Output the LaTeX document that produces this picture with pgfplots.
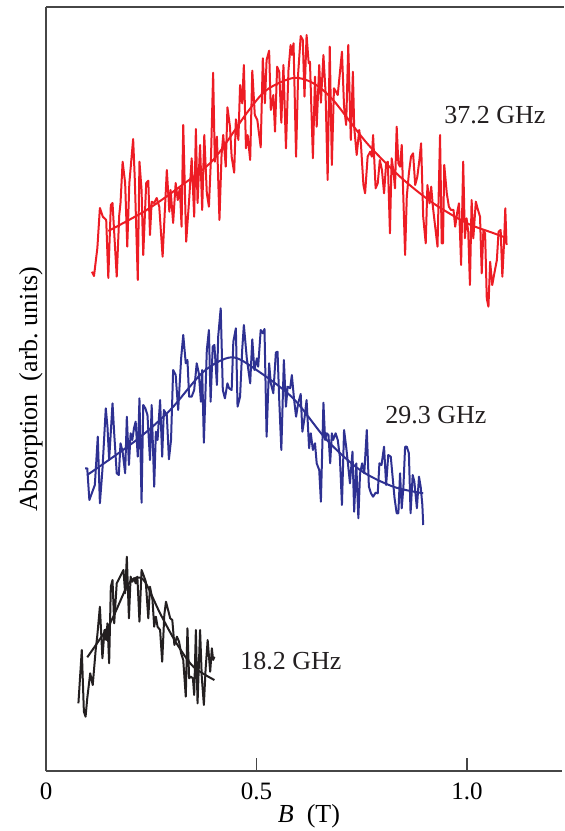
\documentclass[border=0pt]{standalone}
\usepackage{fontspec}
\setmainfont{Liberation Serif}
\usepackage{pgfplots}
\pgfplotsset{compat=1.18}

\definecolor{specred}{RGB}{237,28,36}
\definecolor{specblue}{RGB}{46,49,146}
\definecolor{specblack}{RGB}{35,31,32}
\definecolor{axgray}{RGB}{70,70,70}

\begin{document}
\begin{tikzpicture}
\begin{axis}[
    scale only axis,
    width=258pt, height=382pt,
    xmin=0, xmax=1.2257, ymin=0, ymax=7.64,
    axis x line*=bottom, axis y line*=left,
    axis line style={axgray, line width=0.75pt},
    xtick={0,0.5,1.0}, xticklabels={0,0.5,1.0},
    ytick=\empty,
    tick align=inside, major tick length=6.3pt,
    tick style={axgray, line width=0.75pt},
    /pgf/number format/assume math mode=true,
    tick label style={font=\fontsize{12.5}{15}\selectfont},
    xticklabel style={yshift=-2.4pt},
    xlabel={\textit{B}\ \ (T)},
    ylabel={Absorption\ \ (arb.\ units)},
    every axis x label/.style={at={(axis description cs:0.5,0)}, anchor=base, inner sep=0pt, xshift=2.5pt, yshift=-25.5pt, font=\fontsize{13}{16}\selectfont},
    every axis y label/.style={at={(axis description cs:-0.0174,0.5)}, rotate=90, anchor=base, inner sep=0pt, font=\fontsize{13}{16}\selectfont},
    clip=false,
    every axis plot/.append style={line width=1pt, line join=round},
]
\draw[axgray, line width=0.75pt] (rel axis cs:0,1) -- ([xshift=1pt]rel axis cs:1,1);

% 37.2 GHz
\addplot[specred] coordinates {
(0.109,4.993) (0.114,4.950) (0.122,5.230) (0.128,5.630) (0.135,5.543) (0.143,5.510)
(0.148,4.930) (0.154,5.660) (0.158,5.680) (0.168,4.943) (0.174,5.560) (0.177,5.680)
(0.182,6.093) (0.188,5.880) (0.193,5.243) (0.198,5.880) (0.207,6.320) (0.211,5.910)
(0.218,4.910) (0.222,6.093) (0.227,5.810) (0.231,5.160) (0.238,5.880) (0.243,5.903)
(0.247,5.360) (0.251,5.693) (0.257,5.680) (0.263,5.730) (0.269,5.643) (0.277,5.143)
(0.287,6.010) (0.293,5.593) (0.296,5.810) (0.302,5.480) (0.308,5.880) (0.313,5.710)
(0.318,5.830) (0.322,5.443) (0.326,6.460) (0.333,5.293) (0.340,5.710) (0.346,6.127)
(0.352,5.543) (0.356,6.420) (0.360,5.680) (0.366,6.260) (0.371,5.610) (0.376,6.360)
(0.382,5.777) (0.387,5.643) (0.392,6.143) (0.397,6.983) (0.401,6.093) (0.406,6.343)
(0.412,5.510) (0.417,6.160) (0.421,6.360) (0.427,6.043) (0.431,6.637) (0.437,6.443)
(0.441,6.143) (0.447,5.983) (0.451,6.517) (0.457,6.310) (0.461,6.860) (0.466,6.677)
(0.470,7.060) (0.475,6.227) (0.479,6.360) (0.485,6.110) (0.490,7.003) (0.496,6.560)
(0.502,6.510) (0.510,6.237) (0.515,7.127) (0.520,6.677) (0.524,7.110) (0.530,7.203)
(0.534,6.610) (0.540,6.760) (0.544,6.393) (0.549,7.043) (0.554,6.993) (0.559,6.483)
(0.564,7.060) (0.570,6.227) (0.576,7.010) (0.581,7.260) (0.584,7.160) (0.588,7.277)
(0.594,6.143) (0.599,6.977) (0.605,7.350) (0.610,7.310) (0.614,6.743) (0.619,7.360)
(0.624,7.077) (0.627,7.093) (0.634,6.127) (0.639,6.943) (0.643,6.443) (0.649,7.060)
(0.653,6.683) (0.659,7.160) (0.664,6.793) (0.669,5.910) (0.674,7.243) (0.679,6.060)
(0.684,6.827) (0.689,6.793) (0.693,6.760) (0.698,6.977) (0.703,7.193) (0.708,6.643)
(0.713,6.460) (0.718,7.260) (0.724,6.310) (0.729,6.993) (0.732,6.443) (0.738,6.160)
(0.744,6.410) (0.748,6.277) (0.754,5.860) (0.758,5.777) (0.764,6.143) (0.770,6.193)
(0.774,6.143) (0.777,6.360) (0.783,5.827) (0.788,5.877) (0.793,6.110) (0.798,6.010)
(0.803,5.777) (0.808,6.077) (0.812,6.093) (0.817,5.377) (0.821,6.127) (0.825,6.010)
(0.829,5.827) (0.833,6.443) (0.837,6.077) (0.841,6.043) (0.845,6.260) (0.849,5.710)
(0.853,5.160) (0.857,5.743) (0.862,5.977) (0.867,6.143) (0.872,6.177) (0.877,5.860)
(0.882,5.943) (0.887,6.110) (0.891,6.277) (0.896,5.543) (0.902,5.277) (0.906,5.860)
(0.911,5.677) (0.915,5.843) (0.919,5.643) (0.924,5.460) (0.930,5.243) (0.936,6.360)
(0.940,5.277) (0.943,5.277) (0.946,6.060) (0.952,5.777) (0.957,5.643) (0.962,5.610)
(0.968,5.610) (0.972,5.443) (0.977,5.593) (0.981,5.677) (0.986,5.060) (0.991,6.093)
(0.995,5.327) (0.999,5.527) (1.003,5.393) (1.007,4.860) (1.011,5.710) (1.015,5.327)
(1.021,5.693) (1.025,5.627) (1.031,5.543) (1.035,4.977) (1.039,5.410) (1.043,5.377)
(1.047,4.727) (1.051,4.643) (1.055,5.093) (1.060,4.860) (1.065,4.977) (1.071,5.110)
(1.075,5.393) (1.080,5.410) (1.084,4.943) (1.088,5.277) (1.091,5.627) (1.094,5.260)
};
\addplot[specred, smooth] coordinates {
(0.148,5.40) (0.239,5.61) (0.318,5.843) (0.397,6.11) (0.477,6.58) (0.524,6.81)
(0.587,6.93) (0.634,6.88) (0.682,6.71) (0.762,6.28) (0.841,5.943) (0.919,5.68)
(0.999,5.48) (1.062,5.38) (1.094,5.33)
};

% 29.3 GHz
\addplot[specblue] coordinates {
(0.093,3.027) (0.098,3.027) (0.103,2.710) (0.116,2.860) (0.123,3.343) (0.128,2.677)
(0.134,3.010) (0.142,3.627) (0.146,3.443) (0.150,3.110) (0.158,3.677) (0.162,3.377)
(0.168,2.977) (0.173,2.960) (0.177,3.277) (0.182,3.193) (0.188,2.977) (0.192,3.543)
(0.197,3.060) (0.201,3.377) (0.205,3.310) (0.209,3.427) (0.213,3.493) (0.218,3.143)
(0.222,3.727) (0.227,2.683) (0.231,3.660) (0.236,3.627) (0.241,3.560) (0.247,3.110)
(0.251,3.660) (0.257,2.843) (0.261,3.393) (0.265,3.310) (0.271,3.710) (0.276,3.143)
(0.280,3.610) (0.287,3.560) (0.292,3.117) (0.297,3.310) (0.302,4.010) (0.308,3.960)
(0.314,3.610) (0.321,4.127) (0.326,4.360) (0.332,4.077) (0.336,4.110) (0.340,3.743)
(0.346,3.743) (0.352,3.810) (0.358,4.077) (0.363,3.977) (0.368,3.693) (0.371,4.010)
(0.375,3.283) (0.382,4.210) (0.387,4.410) (0.391,3.693) (0.396,4.243) (0.400,4.260)
(0.406,3.860) (0.409,4.343) (0.415,4.627) (0.420,3.810) (0.425,3.727) (0.431,3.877)
(0.435,3.827) (0.441,3.810) (0.445,4.293) (0.451,4.427) (0.455,3.643) (0.461,3.743)
(0.466,4.210) (0.470,4.460) (0.477,4.127) (0.485,3.877) (0.490,4.317) (0.495,4.010)
(0.501,4.127) (0.504,4.043) (0.510,4.410) (0.515,4.377) (0.519,4.420) (0.524,3.343)
(0.530,4.077) (0.534,3.877) (0.540,3.777) (0.546,4.185) (0.550,4.193) (0.554,3.710)
(0.559,3.210) (0.565,4.110) (0.570,3.643) (0.574,3.843) (0.580,3.827) (0.584,3.960)
(0.589,3.727) (0.594,3.543) (0.599,3.677) (0.605,3.770) (0.609,3.393) (0.614,3.527)
(0.619,3.710) (0.625,3.227) (0.629,3.377) (0.634,3.210) (0.639,3.277) (0.643,3.077)
(0.649,3.010) (0.653,2.693) (0.659,3.683) (0.663,3.310) (0.667,3.377) (0.671,3.360)
(0.675,3.077) (0.679,3.377) (0.682,3.310) (0.688,3.377) (0.693,3.310) (0.698,3.143)
(0.703,2.660) (0.708,3.410) (0.713,3.243) (0.718,3.043) (0.722,2.877) (0.728,3.193)
(0.732,2.593) (0.737,3.077) (0.742,2.527) (0.746,2.977) (0.751,3.077) (0.756,2.977)
(0.762,3.410) (0.767,2.843) (0.772,2.777) (0.777,2.743) (0.783,2.783) (0.788,2.777)
(0.792,3.077) (0.797,3.060) (0.803,3.243) (0.808,2.860) (0.813,3.160) (0.819,3.143)
(0.824,2.910) (0.828,2.727) (0.833,2.577) (0.837,2.577) (0.841,2.977) (0.845,2.627)
(0.849,2.843) (0.853,3.243) (0.857,3.243) (0.862,3.177) (0.866,2.577) (0.871,2.960)
(0.875,2.893) (0.881,2.627) (0.886,2.943) (0.890,2.843) (0.894,2.660) (0.896,2.460)
};
\addplot[specblue, smooth] coordinates {
(0.098,2.96) (0.215,3.31) (0.295,3.61) (0.374,3.993) (0.441,4.137) (0.500,4.01)
(0.587,3.727) (0.667,3.31) (0.746,3.01) (0.825,2.843) (0.896,2.777)
};

% 18.2 GHz
\addplot[specblack] coordinates {
(0.077,0.677) (0.085,1.210) (0.090,0.593) (0.094,0.543) (0.098,0.727) (0.105,0.977)
(0.111,0.860) (0.118,1.210) (0.122,1.360) (0.128,1.643) (0.134,1.127) (0.139,1.410)
(0.143,1.310) (0.146,1.477) (0.150,1.077) (0.154,1.843) (0.158,1.910) (0.162,1.477)
(0.168,1.877) (0.174,1.927) (0.178,1.960) (0.184,2.010) (0.188,1.777) (0.192,2.143)
(0.197,1.527) (0.201,1.943) (0.205,1.893) (0.209,1.927) (0.213,1.877) (0.217,1.943)
(0.222,1.493) (0.227,2.010) (0.233,1.943) (0.237,1.893) (0.243,1.527) (0.247,1.843)
(0.253,1.710) (0.257,1.443) (0.261,1.543) (0.265,1.443) (0.271,1.410) (0.276,1.093)
(0.281,1.560) (0.285,1.693) (0.289,1.627) (0.295,1.527) (0.300,1.510) (0.305,1.260)
(0.311,1.343) (0.316,1.293) (0.321,1.177) (0.326,1.110) (0.332,0.743) (0.336,1.427)
(0.340,0.927) (0.344,0.943) (0.349,0.927) (0.352,0.760) (0.356,1.410) (0.360,0.677)
(0.366,1.410) (0.370,0.943) (0.375,0.660) (0.379,1.010) (0.384,1.310) (0.390,0.993)
(0.394,1.227) (0.397,1.110) (0.400,1.143)
};
\addplot[specblack, smooth] coordinates {
(0.098,1.137) (0.152,1.477) (0.192,1.843) (0.214,1.933) (0.235,1.893) (0.271,1.577)
(0.310,1.277) (0.350,1.043) (0.400,0.910)
};

\node[anchor=base west, font=\fontsize{13}{16}\selectfont, text=specblack, inner sep=0pt] at (axis cs:0.9454,6.477) {37.2 GHz};
\node[anchor=base west, font=\fontsize{13}{16}\selectfont, text=specblack, inner sep=0pt] at (axis cs:0.8052,3.47) {29.3 GHz};
\node[anchor=base west, font=\fontsize{13}{16}\selectfont, text=specblack, inner sep=0pt] at (axis cs:0.4608,1.01) {18.2 GHz};
\end{axis}
\path ([xshift=1pt,yshift=3.5pt]current axis.north east);
\path ([xshift=-23pt,yshift=-30pt]current axis.south west);
\end{tikzpicture}
\end{document}
